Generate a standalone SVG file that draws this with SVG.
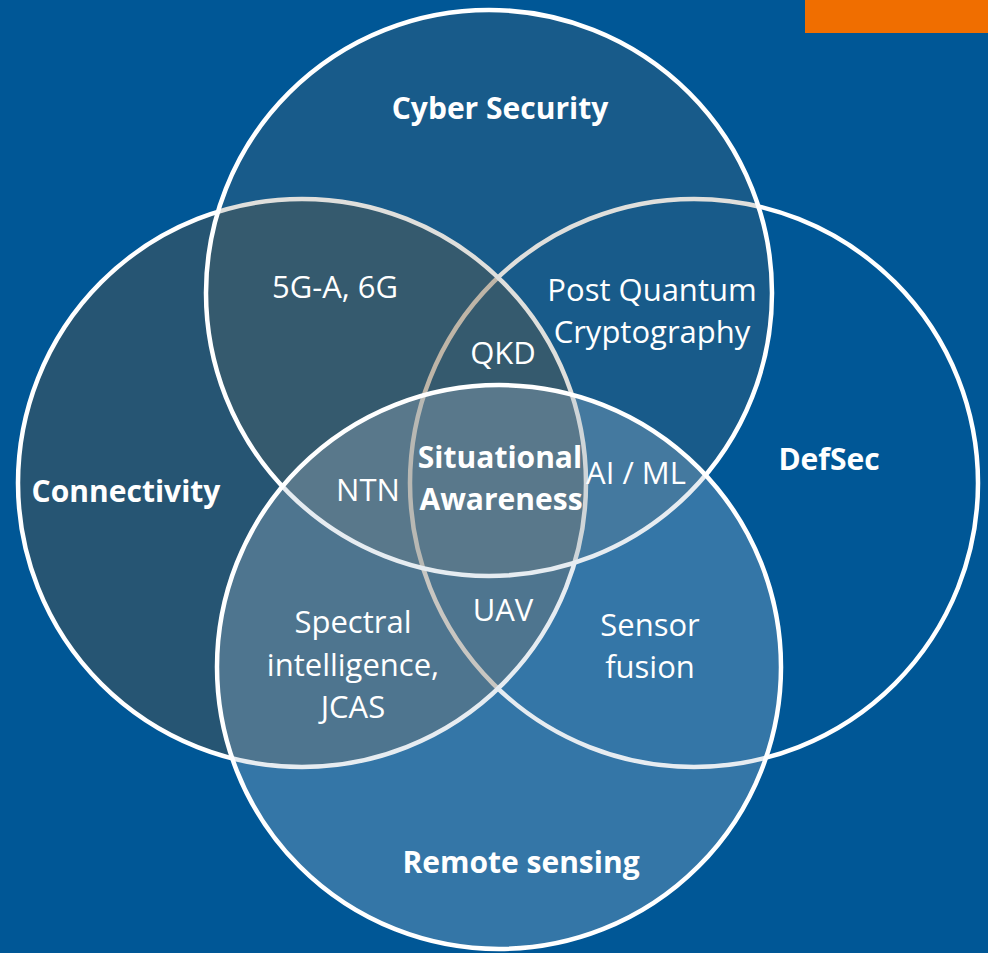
<svg xmlns="http://www.w3.org/2000/svg" width="988" height="953" viewBox="0 0 988 953">
  <style>
    .ring { stroke: #ffffff; stroke-width: 4.5; }
    .t { font-family: "Open Sans", "Liberation Sans", sans-serif; fill: #ffffff; text-anchor: middle; font-size: 31px; }
    .b { font-weight: bold; font-size: 30px; }
  </style>
  <rect id="background" x="0" y="0" width="988" height="953" fill="#005796"/>
  <rect id="accent" x="805" y="0" width="183" height="33" fill="#f06e00"/>

  <g id="defsec">
    <circle class="ring" cx="694" cy="483" r="284" fill="none"/>
  </g>
  <g id="connectivity">
    <circle class="ring" cx="302" cy="483" r="284" fill="rgb(121,83,39)" fill-opacity="0.315"/>
  </g>
  <g id="cyber-security">
    <circle class="ring" cx="489" cy="293" r="283" fill="rgb(109,109,96)" fill-opacity="0.22"/>
  </g>
  <g id="remote-sensing">
    <circle class="ring" cx="499" cy="667" r="282" fill="rgb(173,193,210)" fill-opacity="0.3"/>
  </g>

  <g id="labels">
    <text class="t b" x="500" y="119">Cyber Security</text>
    <text class="t b" x="126" y="502">Connectivity</text>
    <text class="t b" x="829" y="470">DefSec</text>
    <text class="t b" x="521" y="873">Remote sensing</text>
  </g>
  <g id="overlaps">
    <text class="t" x="335" y="298">5G-A, 6G</text>
    <text class="t" x="652" y="301">Post Quantum</text>
    <text class="t" x="652" y="343">Cryptography</text>
    <text class="t" x="503" y="364">QKD</text>
    <text class="t" x="368" y="501">NTN</text>
    <text class="t b" x="500" y="468">Situational</text>
    <text class="t b" x="501" y="510">Awareness</text>
    <text class="t" x="636" y="484">AI / ML</text>
    <text class="t" x="503" y="621">UAV</text>
    <text class="t" x="353" y="633">Spectral</text>
    <text class="t" x="353" y="676">intelligence,</text>
    <text class="t" x="353" y="718">JCAS</text>
    <text class="t" x="650" y="636">Sensor</text>
    <text class="t" x="650" y="678">fusion</text>
  </g>
</svg>
